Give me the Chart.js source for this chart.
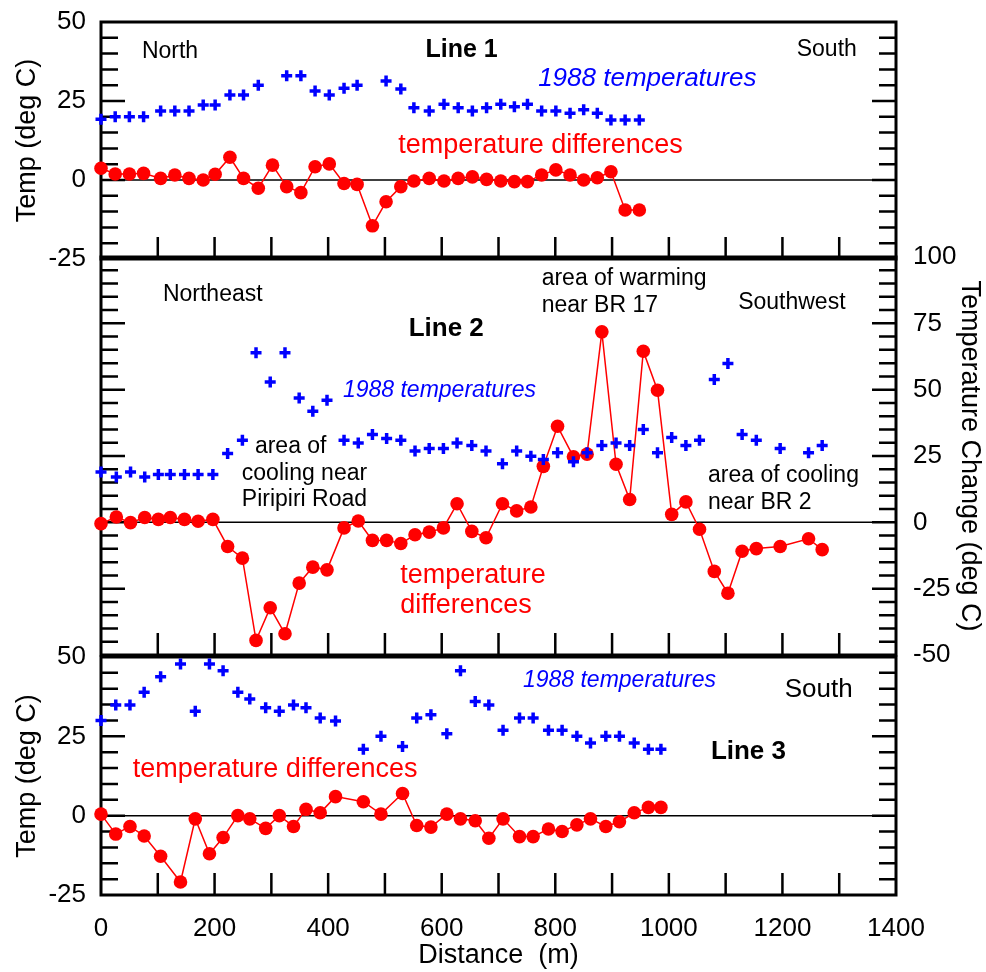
<!DOCTYPE html>
<html>
<head>
<meta charset="utf-8">
<title>Line 1-3 temperature survey</title>
<script src="https://cdn.jsdelivr.net/npm/chart.js@4.4.1/dist/chart.umd.min.js"></script>
<style>
  html, body { margin: 0; padding: 0; background: #fff; }
  #wrap { position: relative; width: 986px; height: 972px; }
  #wrap canvas { position: absolute; left: 0; top: 0; }
</style>
</head>
<body>
<div id="wrap">
  <canvas id="line1" width="986" height="972"></canvas>
  <canvas id="line2" width="986" height="972"></canvas>
  <canvas id="line3" width="986" height="972"></canvas>
</div>
<script>
// ─── Line 1 (North → South) ────────────────────────────────────────────────────
const distance1 = [0, 25, 50, 75, 105, 130, 155, 180, 201, 227, 251, 277, 302, 327, 352, 377, 402, 428, 451, 478,
  502, 528, 551, 578, 604, 629, 654, 679, 704, 728, 751, 776, 801, 826, 850, 874, 898, 923, 948];
const temps1 = [19.2, 20, 20, 20, 21.8, 21.8, 21.8, 23.7, 23.7, 26.9, 26.9, 30, null, 33, 33, 28.2, 26.9, 29, 30, null,
  31.3, 28.8, 22.9, 21.8, 24, 22.9, 21.8, 22.9, 24, 23.2, 24, 21.8, 21.8, 21.1, 22.2, 21.1, 19, 19, 19];
const diffs1 = [3.7, 1.9, 1.9, 2.1, 0.5, 1.6, 0.5, 0, 1.8, 7.2, 0.5, -2.6, 4.7, -2.1, -4, 4.2, 5.1, -1.1, -1.4, -14.5,
  -6.9, -2.1, -0.3, 0.5, -0.3, 0.5, 1, 0.2, -0.3, -0.5, -0.5, 1.6, 3.2, 1.6, 0, 0.7, 2.6, -9.5, -9.5];

// ─── Line 2 (Northeast → Southwest) ────────────────────────────────────────────
const distance2 = [0, 27, 52, 77, 101, 122, 147, 171, 197, 223, 249, 273, 298, 324, 349, 373, 398, 428, 453, 478,
  503, 528, 553, 578, 603, 627, 653, 678, 707, 732, 757, 779, 804, 832, 856, 882, 907, 931, 955, 980,
  1005, 1030, 1054, 1080, 1104, 1129, 1154, 1196, 1246, 1270];
const temps2 = [19, 17.1, 19, 17.1, 18, 18, 18, 18, 18, 25.9, 30.9, 63.9, 52.9, 63.9, 46.9, 41.9, 46, 30.9, 29.9, 33.1,
  31.6, 30.9, 26.9, 27.8, 27.8, 29.9, 29, 26.9, 22.1, 26.9, 24.9, 23.7, 26.2, 22.8, 26.2, 29, 29.9, 29, 35, 26.2,
  32, 29, 30.9, 53.8, 59.9, 33.1, 30.9, 27.8, 26.2, 29];
const diffs2 = [-0.5, 2, -0.1, 1.8, 1.1, 1.8, 1.1, 0.4, 1.1, -9.1, -13.5, -44.5, -32.2, -42, -22.9, -16.9, -17.9, -2.1, 0.5, -6.8,
  -6.8, -8, -4.7, -3.7, -2.1, 7, -3.4, -5.8, 7, 4.3, 5.8, 21.1, 36.2, 24.7, 25.7, 71.8, 21.9, 8.6, 64.5, 49.8,
  3, 7.7, -2.6, -18.5, -26.7, -10.9, -9.9, -9.1, -6.2, -10.3];

// ─── Line 3 (→ South) ──────────────────────────────────────────────────────────
const distance3 = [0, 26, 51, 76, 105, 140, 166, 191, 215, 241, 262, 290, 314, 339, 361, 386, 413, 462, 493, 531,
  556, 581, 609, 633, 659, 683, 708, 737, 761, 788, 812, 838, 862, 889, 913, 939, 964, 986];
const temps3 = [30, 34.9, 34.9, 38.9, 43.8, 47.8, 32.9, 47.8, 45.7, 38.9, 36.8, 34, 32.9, 34.9, 34, 30.8, 29.8, 20.9, 25, 21.8,
  30.8, 31.8, 25.8, 45.7, 36, 34.9, 26.9, 30.8, 30.8, 26.9, 26.9, 25, 22.9, 25, 25, 22.9, 20.9, 20.9];
const diffs3 = [0.5, -5.8, -3.4, -6.4, -12.8, -20.9, -1, -12, -6.9, 0, -1, -4, 0, -3.4, 2, 0.9, 6, 4.4, 0.5, 7,
  -3.1, -3.6, 0.5, -1, -1.6, -7.1, -1, -6.6, -6.6, -4.2, -5, -2.9, -1, -3.4, -1.9, 0.9, 2.6, 2.6];

// ─── Axes ──────────────────────────────────────────────────────────────────────
const distanceRange = [0, 1400];
const tempRange = [-25, 50];        // lines 1 and 3
const changeRange = [-50, 100];     // line 2

const FONT = "'Liberation Sans', Arial, Helvetica, sans-serif";
const BLUE = "#0000ff";
const RED = "#ff0000";

// text labels inside each panel, placed in data units
const notes1 = [
  { text: "North", x: 72, y: 38.6, size: 23 },
  { text: "Line 1", x: 635, y: 38.9, size: 25, weight: "bold", align: "center" },
  { text: "South", x: 1331, y: 39.2, size: 23, align: "right" },
  { text: "1988 temperatures", x: 962, y: 29.7, size: 26, style: "italic", color: BLUE, align: "center" },
  { text: "temperature differences", x: 774, y: 8.6, size: 27, color: RED, align: "center" }
];
const notes2 = [
  { text: "Northeast", x: 109, y: 83.5, size: 23 },
  { text: "Line 2", x: 608, y: 70.2, size: 26, weight: "bold", align: "center" },
  { text: "area of warming", x: 776, y: 89.4, size: 23 },
  { text: "near BR 17", x: 776, y: 79.4, size: 23 },
  { text: "Southwest", x: 1122, y: 80.3, size: 23 },
  { text: "1988 temperatures", x: 426, y: 47.1, size: 23, style: "italic", color: BLUE },
  { text: "area of", x: 271, y: 26.2, size: 23 },
  { text: "cooling near", x: 248, y: 16.1, size: 23 },
  { text: "Piripiri Road", x: 248, y: 6.2, size: 23 },
  { text: "temperature", x: 527, y: -22.9, size: 27, color: RED },
  { text: "differences", x: 527, y: -34.2, size: 27, color: RED },
  { text: "area of cooling", x: 1069, y: 15.2, size: 23 },
  { text: "near BR 2", x: 1069, y: 4.9, size: 23 }
];
const notes3 = [
  { text: "1988 temperatures", x: 743, y: 40.4, size: 23, style: "italic", color: BLUE },
  { text: "South", x: 1204, y: 37.3, size: 26 },
  { text: "Line 3", x: 1074, y: 18, size: 26, weight: "bold" },
  { text: "temperature differences", x: 56, y: 12.2, size: 27, color: RED }
];

const pts = (xs, ys) => xs.map((x, i) => ({ x, y: ys[i] }));

// ─── Frame, inward ticks and zero line, all taken from the scales ──────────────
const framePlugin = {
  id: "frame",
  beforeDatasetsDraw(chart) {
    const { ctx, chartArea: a, scales: { x, y } } = chart;
    ctx.save();
    ctx.strokeStyle = "#000";

    ctx.lineWidth = 1.5;
    const y0 = y.getPixelForValue(0);
    ctx.beginPath();
    ctx.moveTo(a.left, y0);
    ctx.lineTo(a.right, y0);
    ctx.stroke();

    ctx.lineWidth = 2.5;
    ctx.beginPath();
    for (let v = y.min + 5; v < y.max; v += 5) {
      const py = y.getPixelForValue(v);
      const len = v % 25 === 0 ? 24 : 17;
      ctx.moveTo(a.left, py); ctx.lineTo(a.left + len, py);
      ctx.moveTo(a.right, py); ctx.lineTo(a.right - len, py);
    }
    for (let v = x.min + 100; v < x.max; v += 100) {
      const px = x.getPixelForValue(v);
      ctx.moveTo(px, a.bottom); ctx.lineTo(px, a.bottom - 22);
    }
    ctx.stroke();

    ctx.lineWidth = 3;
    ctx.strokeRect(a.left, a.top, a.right - a.left, a.bottom - a.top);
    ctx.restore();
  }
};

function notesPlugin(notes) {
  return {
    id: "notes",
    afterDatasetsDraw(chart) {
      const { ctx, scales: { x, y } } = chart;
      ctx.save();
      ctx.textBaseline = "alphabetic";
      notes.forEach(n => {
        ctx.font = `${n.style || "normal"} ${n.weight || "normal"} ${n.size}px ${FONT}`;
        ctx.fillStyle = n.color || "#000";
        ctx.textAlign = n.align || "left";
        ctx.fillText(n.text, x.getPixelForValue(n.x), y.getPixelForValue(n.y));
      });
      ctx.restore();
    }
  };
}

// y axes get a fixed width and no extra room for their end labels,
// so every panel's plot area lines up
function fixWidth(w) {
  return s => {
    s.width = w;
    s.paddingTop = 0;
    s.paddingBottom = 0;
  };
}

// ─── One panel per survey line ────────────────────────────────────────────────
function makePanel(id, p) {
  const tickFont = { family: FONT, size: 26 };
  const titleFont = { family: FONT, size: 27 };
  const noGrid = { display: false, drawTicks: false };

  return new Chart(document.getElementById(id), {
    type: "scatter",
    data: {
      datasets: [
        {
          data: pts(p.dist, p.temps),
          pointStyle: "cross",
          pointRadius: 5.5,
          pointBorderWidth: 3.5,
          pointBorderColor: BLUE,
          pointBackgroundColor: BLUE,
          clip: false
        },
        {
          data: pts(p.dist, p.diffs),
          showLine: true,
          borderColor: RED,
          borderWidth: 1.5,
          pointRadius: 6.8,
          pointBorderWidth: 0,
          pointBackgroundColor: RED,
          pointBorderColor: RED,
          clip: false
        }
      ]
    },
    options: {
      responsive: false,
      animation: false,
      devicePixelRatio: 1,
      events: [],
      layout: { padding: { top: p.top, bottom: p.bottom, left: 0, right: 0 } },
      plugins: { legend: { display: false }, tooltip: { enabled: false } },
      scales: {
        x: {
          type: "linear",
          min: distanceRange[0],
          max: distanceRange[1],
          display: p.showX,
          grid: noGrid,
          border: { display: false },
          ticks: { stepSize: 200, font: tickFont, color: "#000", padding: 18, maxRotation: 0, autoSkip: false,
            callback: v => String(v) },
          title: { display: true, text: "Distance  (m)", font: titleFont, color: "#000", padding: 0 },
          afterFit: s => { if (p.showX) s.height = 77; }
        },
        y: {
          position: "left",
          min: p.range[0],
          max: p.range[1],
          grid: noGrid,
          border: { display: false },
          ticks: { display: p.leftLabels, stepSize: 25, font: tickFont, color: "#000", padding: 15, autoSkip: false },
          title: { display: p.leftLabels, text: "Temp (deg C)", font: titleFont, color: "#000", padding: { top: 11 } },
          afterFit: fixWidth(101)
        },
        y2: {
          position: "right",
          min: p.range[0],
          max: p.range[1],
          grid: noGrid,
          border: { display: false },
          ticks: { display: !p.leftLabels, stepSize: 25, font: tickFont, color: "#000", padding: 17, autoSkip: false },
          title: { display: !p.leftLabels, text: "Temperature Change (deg C)", font: titleFont, color: "#000", padding: { top: 0 } },
          afterFit: fixWidth(90)
        }
      }
    },
    plugins: [framePlugin, notesPlugin(p.notes)]
  });
}

makePanel("line1", { dist: distance1, temps: temps1, diffs: diffs1, notes: notes1, range: tempRange,
  top: 22, bottom: 713, showX: false, leftLabels: true });
makePanel("line2", { dist: distance2, temps: temps2, diffs: diffs2, notes: notes2, range: changeRange,
  top: 257, bottom: 317, showX: false, leftLabels: false });
makePanel("line3", { dist: distance3, temps: temps3, diffs: diffs3, notes: notes3, range: tempRange,
  top: 657, bottom: 0, showX: true, leftLabels: true });
</script>
</body>
</html>
